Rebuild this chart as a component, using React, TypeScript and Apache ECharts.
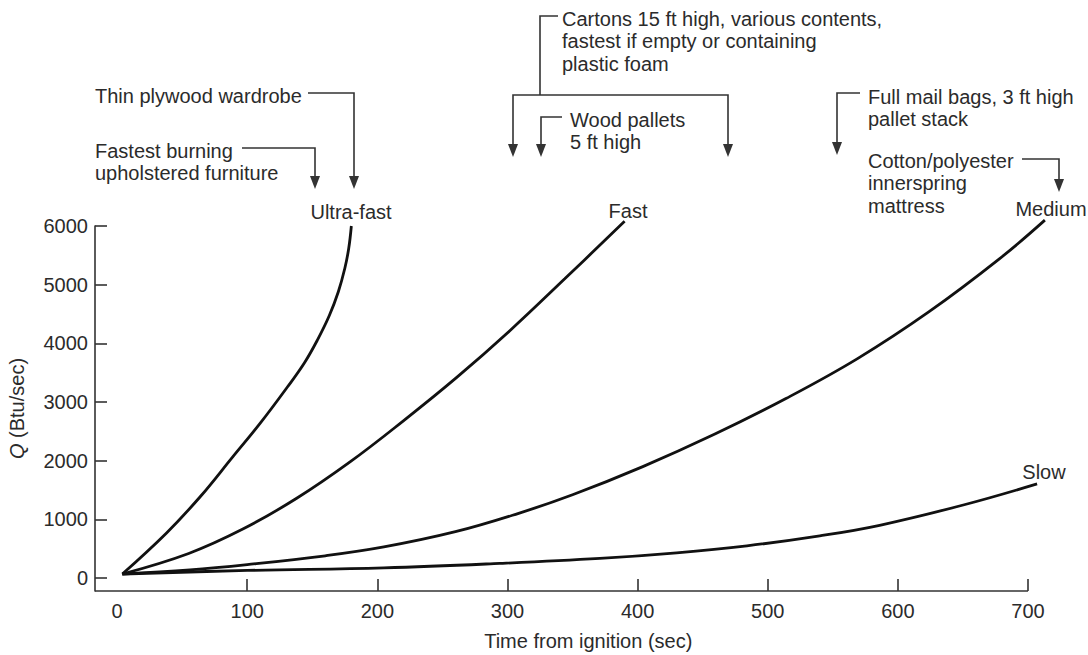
import React, { useEffect, useRef } from "react";
import * as echarts from "echarts";

// Time from ignition (sec), Q (Btu/sec)
const ultraFast: [number, number][] = [
  [4, 70], [38, 770], [64, 1390], [89, 2070], [110, 2640], [131, 3260],
  [144, 3670], [154, 4060], [163, 4470], [170, 4880], [175, 5280],
  [178, 5620], [180, 6000],
];
const fast: [number, number][] = [
  [4, 70], [55, 420], [97, 840], [138, 1360], [179, 1980], [220, 2680],
  [261, 3420], [302, 4220], [344, 5100], [390, 6080],
];
const medium: [number, number][] = [
  [4, 70], [56, 140], [100, 230], [160, 380], [205, 530], [260, 790],
  [308, 1100], [350, 1420], [404, 1900], [459, 2450], [514, 3060],
  [569, 3740], [624, 4540], [678, 5440], [713, 6100],
];
const slow: [number, number][] = [
  [4, 70], [100, 130], [205, 175], [294, 250], [371, 335], [430, 430],
  [484, 550], [540, 720], [586, 900], [651, 1250], [707, 1605],
];

const xTickLabels = [0, 100, 200, 300, 400, 500, 600, 700];
const xTickMarks = [100, 200, 300, 400, 500, 600, 700];
const yTicks = [0, 1000, 2000, 3000, 4000, 5000, 6000];
const xMin = -17;
const xAxisEnd = 700;
const yMin = -220;

const FONT = '"Liberation Sans", Arial, Helvetica, sans-serif';
const FS = 20;
const TXT = "#2b2b2b";
const INK = "#111";
const AX = "#333";

function txt(x: number, y: number, text: string, align: string = "left") {
  return {
    type: "text",
    x,
    y,
    silent: true,
    style: {
      text,
      fontSize: FS,
      fontFamily: FONT,
      fill: TXT,
      align,
      verticalAlign: "middle",
      lineHeight: 22.5,
    },
  };
}
function line(points: number[][]) {
  return {
    type: "polyline",
    silent: true,
    shape: { points },
    style: { stroke: AX, lineWidth: 1.6, fill: null },
  };
}
function head(x: number, tipY: number) {
  return {
    type: "polygon",
    silent: true,
    shape: { points: [[x - 5, tipY - 13], [x + 5, tipY - 13], [x, tipY]] },
    style: { fill: AX },
  };
}

export default function App() {
  const ref = useRef<HTMLDivElement>(null);
  useEffect(() => {
    if (!ref.current) return;
    const chart = echarts.init(ref.current, null, { renderer: "svg" });
    const mk = (name: string, data: [number, number][], extra: any = {}) => ({
      name,
      type: "line",
      data,
      smooth: 0.4,
      showSymbol: false,
      clip: false,
      lineStyle: { color: INK, width: 2.8 },
      itemStyle: { color: INK },
      ...extra,
    });
    chart.setOption({
      animation: false,
      backgroundColor: "#fff",
      textStyle: { fontFamily: FONT },
      grid: { left: 95, right: 40.5, top: 226, bottom: 64, containLabel: false, outerBoundsMode: "none" },
      xAxis: {
        type: "value",
        min: xMin,
        max: 715,
        name: "Time from ignition (sec)",
        nameLocation: "middle",
        nameGap: 40,
        nameTextStyle: { fontSize: FS, color: TXT, fontFamily: FONT, padding: [0, 0, 0, 34] },
        axisLine: { show: false, onZero: false },
        axisTick: { show: true, inside: true, length: 12, customValues: xTickMarks, lineStyle: { color: AX, width: 1.6 } },
        axisLabel: {
          customValues: xTickLabels,
          fontSize: FS,
          color: TXT,
          margin: 10,
          fontFamily: FONT,
          formatter: (v: number) => String(v),
        },
        splitLine: { show: false },
      },
      yAxis: {
        type: "value",
        min: yMin,
        max: 6000,
        name: "{q|Q} (Btu/sec)",
        nameLocation: "middle",
        nameGap: 68,
        nameTextStyle: {
          fontSize: FS,
          color: TXT,
          fontFamily: FONT,
          rich: { q: { fontStyle: "italic", fontSize: FS, color: TXT, fontFamily: FONT } },
        },
        axisLine: { show: true, onZero: false, lineStyle: { color: AX, width: 1.6 } },
        axisTick: { show: true, inside: true, length: 12, customValues: yTicks, lineStyle: { color: AX, width: 1.6 } },
        axisLabel: {
          customValues: yTicks,
          fontSize: FS,
          color: TXT,
          margin: 7,
          fontFamily: FONT,
          formatter: (v: number) => String(v),
        },
        splitLine: { show: false },
      },
      series: [
        mk("Ultra-fast", ultraFast),
        mk("Fast", fast),
        mk("Medium", medium),
        mk("Slow", slow, {
          markLine: {
            silent: true,
            symbol: ["none", "none"],
            label: { show: false },
            lineStyle: { type: "solid", color: AX, width: 1.6 },
            data: [[{ coord: [xMin, yMin] }, { coord: [xAxisEnd, yMin] }]],
          },
        }),
      ],
      graphic: [
        // Thin plywood wardrobe
        txt(95, 96, "Thin plywood wardrobe"),
        line([[308, 93], [354, 93], [354, 180]]),
        head(354, 189),
        // Fastest burning upholstered furniture
        txt(95, 162, "Fastest burning\nupholstered furniture"),
        line([[242, 148], [315, 148], [315, 180]]),
        head(315, 189),
        // Cartons
        txt(562, 41, "Cartons 15 ft high, various contents,\nfastest if empty or containing\nplastic foam"),
        line([[558, 16], [540, 16], [540, 95]]),
        line([[513, 148], [513, 95], [728, 95], [728, 148]]),
        head(513, 157),
        head(728, 157),
        // Wood pallets
        txt(570, 131, "Wood pallets\n5 ft high"),
        line([[562, 117], [541, 117], [541, 148]]),
        head(541, 157),
        // Full mail bags
        txt(868, 108, "Full mail bags, 3 ft high\npallet stack"),
        line([[860, 93], [837, 93], [837, 146]]),
        head(837, 155),
        // Cotton/polyester mattress
        txt(868, 183, "Cotton/polyester\ninnerspring\nmattress"),
        line([[1022, 159], [1059, 159], [1059, 183]]),
        head(1059, 192),
        // Curve labels
        txt(351, 212, "Ultra-fast", "center"),
        txt(628, 211, "Fast", "center"),
        txt(1051, 209, "Medium", "center"),
        txt(1044, 472, "Slow", "center"),
      ],
    });
    return () => chart.dispose();
  }, []);
  return (
    <div
      ref={ref}
      style={{ position: "fixed", left: 0, top: 0, width: 1088, height: 655, background: "#fff" }}
    />
  );
}
